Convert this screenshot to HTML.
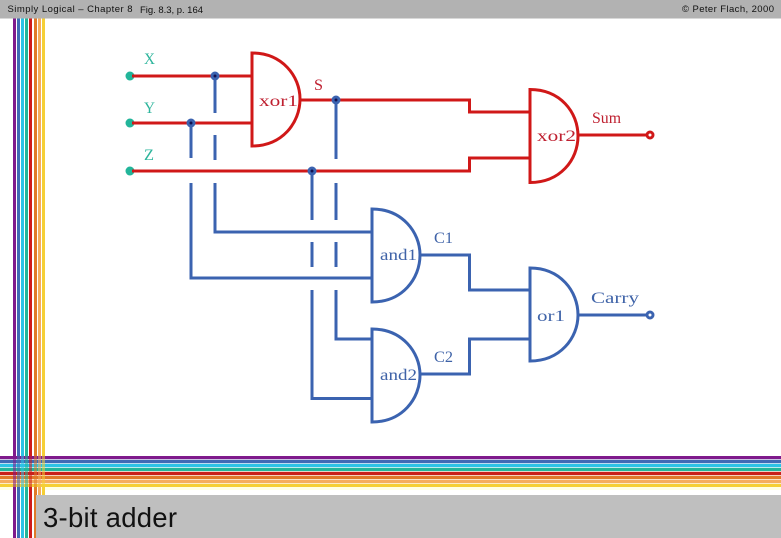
<!DOCTYPE html>
<html><head><meta charset="utf-8">
<style>
html,body{margin:0;padding:0;background:#fff;}
svg{display:block;}
.m{font-family:"Liberation Serif",serif;font-size:16px;}
.s{font-family:"Liberation Sans",sans-serif;font-size:9.500px;fill:#111;}
</style></head>
<body>
<svg width="781" height="538" viewBox="0 0 781 538" xmlns="http://www.w3.org/2000/svg">
<rect width="781" height="538" fill="#fff"/>
<!-- horizontal stripes -->
<g shape-rendering="crispEdges">
<rect x="0" y="456" width="781" height="3" fill="#7f1a8c"/>
<rect x="0" y="460" width="781" height="3" fill="#3f6ab5"/>
<rect x="0" y="464" width="781" height="3" fill="#2cc3e6"/>
<rect x="0" y="468" width="781" height="3" fill="#22b59a"/>
<rect x="0" y="472" width="781" height="3" fill="#c8201a"/>
<rect x="0" y="476" width="781" height="3" fill="#e07a2a"/>
<rect x="0" y="480" width="781" height="3" fill="#f5ad5e"/>
<rect x="0" y="484" width="781" height="3" fill="#f5cf35"/>
<rect x="0" y="459" width="781" height="1" fill="#a9a0d0" opacity="0.6"/>
<rect x="0" y="463" width="781" height="1" fill="#90c8e8" opacity="0.6"/>
<rect x="0" y="467" width="781" height="1" fill="#90e0e0" opacity="0.6"/>
<rect x="0" y="471" width="781" height="1" fill="#e0b0a0" opacity="0.6"/>
<rect x="0" y="475" width="781" height="1" fill="#f0b090" opacity="0.6"/>
<rect x="0" y="479" width="781" height="1" fill="#f8d0a0" opacity="0.6"/>
<rect x="0" y="483" width="781" height="1" fill="#f8e0a0" opacity="0.6"/>
</g>
<rect x="0" y="487" width="781" height="3" fill="#ffffd8" opacity="0.7"/>
<!-- vertical stripes -->
<g shape-rendering="crispEdges">
<rect x="13" y="18" width="3" height="438" fill="#7f1a8c"/>
<rect x="17" y="18" width="3" height="438" fill="#3f6ab5"/>
<rect x="21" y="18" width="3" height="438" fill="#2cc3e6"/>
<rect x="25" y="18" width="3" height="438" fill="#22b59a"/>
<rect x="29" y="18" width="3" height="438" fill="#d01c1c"/>
<rect x="34" y="18" width="3" height="438" fill="#e07a2a"/>
<rect x="38" y="18" width="3" height="438" fill="#f5ad5e"/>
<rect x="42" y="18" width="3" height="438" fill="#f5cf35"/>
<rect x="13" y="487" width="3" height="51" fill="#7f1a8c"/>
<rect x="17" y="487" width="3" height="51" fill="#3f6ab5"/>
<rect x="21" y="487" width="3" height="51" fill="#2cc3e6"/>
<rect x="25" y="487" width="3" height="51" fill="#22b59a"/>
<rect x="29" y="487" width="3" height="51" fill="#d01c1c"/>
<rect x="34" y="487" width="3" height="51" fill="#e07a2a"/>
<rect x="38" y="487" width="3" height="11" fill="#f5ad5e"/>
<rect x="42" y="487" width="3" height="11" fill="#f5cf35"/>
</g>
<!-- crossing blend -->
<g shape-rendering="crispEdges" opacity="0.55">
<rect x="13" y="456" width="3" height="31" fill="#7f1a8c"/>
<rect x="17" y="456" width="3" height="31" fill="#3f6ab5"/>
<rect x="21" y="456" width="3" height="31" fill="#2cc3e6"/>
<rect x="25" y="456" width="3" height="31" fill="#22b59a"/>
<rect x="29" y="456" width="3" height="31" fill="#d01c1c"/>
<rect x="34" y="456" width="3" height="31" fill="#e07a2a"/>
<rect x="38" y="456" width="3" height="31" fill="#f5ad5e"/>
<rect x="42" y="456" width="3" height="31" fill="#f5cf35"/>
</g>
<!-- bars -->
<rect x="0" y="0" width="781" height="18.500" fill="#b2b2b2"/>
<rect x="36" y="495" width="745" height="43" fill="#bfbfbf"/>
<text class="s" x="7.500" y="12" textLength="125">Simply Logical – Chapter 8</text>
<text class="s" x="140" y="13" textLength="63">Fig. 8.3, p. 164</text>
<text class="s" x="682" y="12" textLength="92">© Peter Flach, 2000</text>
<text x="43" y="527" font-family="'Liberation Sans',sans-serif" font-size="27.500" fill="#111" textLength="134">3-bit adder</text>

<!-- blue wires -->
<g fill="none" stroke="#3b63b0" stroke-width="3">
<path d="M215 76V113M215 135V160M215 183V232H372"/>
<path d="M191 123V158M191 183V278H372"/>
<path d="M336 100V159M336 183V220M336 242V267M336 290V339H372"/>
<path d="M312 171V220M312 242V267M312 290V398.500H372"/>
<path d="M420 255H469.500V290H530"/>
<path d="M420 374H469.500V339H530"/>
<path d="M578 315H646"/>
<path d="M372 209C402 209 420 232 420 255C420 279 402 302 372 302Z"/>
<path d="M372 329C402 329 420 352 420 375C420 399 402 422 372 422Z"/>
<path d="M530 268C560 268 578 291 578 315C578 338 560 361 530 361Z"/>
<circle cx="650" cy="315" r="3" fill="#fff"/>
</g>
<!-- red wires -->
<g fill="none" stroke="#d01818" stroke-width="3">
<path d="M132 76H251M132 123H251M132 171H469.500V158H530"/>
<path d="M300 100H469.500V112H530"/>
<path d="M578 135H646"/>
<path d="M252 53C282 53 300 76 300 99C300 123 282 146 252 146Z"/>
<path d="M530 89.500C560 89.500 578 112 578 136C578 160 560 182.500 530 182.500Z"/>
<circle cx="650" cy="135" r="3" fill="#fff"/>
</g>
<!-- input terminals -->
<g fill="#22b59a">
<circle cx="130" cy="76" r="4.500"/>
<circle cx="130" cy="123" r="4.500"/>
<circle cx="130" cy="171" r="4.500"/>
</g>
<path d="M132 76H140M132 123H140M132 171H140" stroke="#d01818" stroke-width="3"/>
<!-- junctions -->
<g fill="#3b63b0">
<circle cx="215" cy="76" r="4.500"/>
<circle cx="191" cy="123" r="4.500"/>
<circle cx="336" cy="100" r="4.500"/>
<circle cx="312" cy="171" r="4.500"/>
</g>
<g fill="#101050">
<circle cx="215" cy="76" r="1.500"/>
<circle cx="191" cy="123" r="1.500"/>
<circle cx="336" cy="100" r="1.500"/>
<circle cx="312" cy="171" r="1.500"/>
</g>
<!-- labels -->
<g class="m" fill="#2db59c">
<text x="144" y="64" textLength="11" lengthAdjust="spacingAndGlyphs">X</text>
<text x="144" y="113" textLength="11" lengthAdjust="spacingAndGlyphs">Y</text>
<text x="144" y="160" textLength="10" lengthAdjust="spacingAndGlyphs">Z</text>
</g>
<g class="m" fill="#bf2030">
<text x="259" y="106" textLength="39" lengthAdjust="spacingAndGlyphs">xor1</text>
<text x="314" y="90" textLength="9" lengthAdjust="spacingAndGlyphs">S</text>
<text x="537" y="141" textLength="39" lengthAdjust="spacingAndGlyphs">xor2</text>
<text x="592" y="123" textLength="29" lengthAdjust="spacingAndGlyphs">Sum</text>
</g>
<g class="m" fill="#3f63a8">
<text x="380" y="260" textLength="37" lengthAdjust="spacingAndGlyphs">and1</text>
<text x="380" y="380" textLength="37" lengthAdjust="spacingAndGlyphs">and2</text>
<text x="434" y="243" textLength="19" lengthAdjust="spacingAndGlyphs">C1</text>
<text x="434" y="362" textLength="19" lengthAdjust="spacingAndGlyphs">C2</text>
<text x="537" y="321" textLength="28" lengthAdjust="spacingAndGlyphs">or1</text>
<text x="591" y="303" textLength="48" lengthAdjust="spacingAndGlyphs">Carry</text>
</g>
</svg>
</body></html>
